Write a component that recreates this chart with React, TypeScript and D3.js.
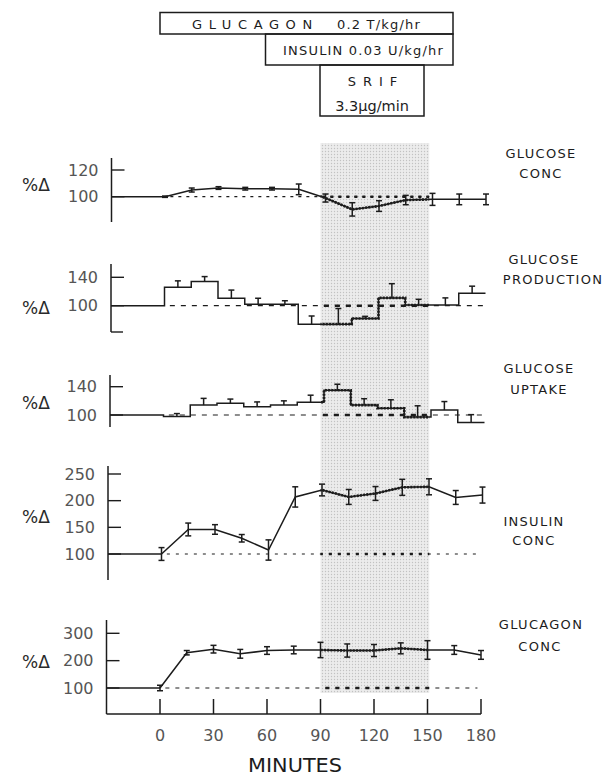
import * as d3 from "d3";

// sampling times (min) and step-interval starts
const minutes = [0, 15, 30, 45, 60, 75, 90, 105, 120, 135, 150, 165, 180];
const stepStarts = [0, 15, 30, 45, 60, 75, 90, 105, 120, 135, 150, 165];

// % of basal
const glucoseConc = [100, 105, 106.5, 106, 106, 105.5, 99, 90.5, 93, 97.5, 98, 98, 98];
const glucoseConcErr = [0.5, 1.5, 1, 1, 1, 4, 3, 5, 4, 3.5, 4.5, 4, 4];

const glucoseProd = [126, 134, 110.5, 102, 102, 74, 74, 82, 111, 101, 101, 117.5];
const glucoseProdErr = [9, 7, 11.5, 8.5, 5, 11.5, 22, 3, 20, 8, 10, 10];

const glucoseUptake = [98, 114, 116.5, 111.5, 114, 118, 135, 114, 109.5, 97, 107, 89.5];
const glucoseUptakeErr = [4, 9.5, 6, 7, 6, 10, 8.5, 9, 12, 16, 12, 11];

const insulinConc = [100, 146, 146, 129.5, 107.5, 207, 220, 207, 213.5, 225, 226, 206, 210.5];
const insulinConcErr = [12, 12, 9, 7, 19, 19, 11, 14, 13, 15, 15, 13, 15];

const glucagonConc = [100, 229, 242, 225, 237, 239, 239, 237, 237, 245, 239, 239, 221];
const glucagonConcErr = [10, 8, 14, 16, 14, 14, 28, 24, 22, 20, 34, 16, 16];

const xTicks = [0, 30, 60, 90, 120, 150, 180];
const srifPeriod = [90, 151];

const ink = "#1c1c1c";
const grey = "#555";
const font = "DejaVu Sans, sans-serif";
const AXIS_X = 106.5;

type Panel = {
  kind: "line" | "step";
  values: number[];
  errs: number[];
  domain: [number, number];
  range: [number, number];
  ticks: number[];
  axisSpan: [number, number];
  dx: number;
  pctY: number;
  labels: string[];
  labelX: number[];
  labelY: number[];
  dash: string;
  dashEnd: number;
  foot?: boolean;
};

const panels: Panel[] = [
  { kind: "line", values: glucoseConc, errs: glucoseConcErr, domain: [100, 120], range: [196.7, 170],
    ticks: [100, 120], axisSpan: [158, 222], dx: 5, pctY: 185,
    labels: ["GLUCOSE", "CONC"], labelX: [541, 541], labelY: [158, 178], dash: "3 5", dashEnd: 150 },
  { kind: "step", values: glucoseProd, errs: glucoseProdErr, domain: [100, 140], range: [305.7, 277.3],
    ticks: [100, 140], axisSpan: [264, 332], dx: 4.5, pctY: 308, foot: true,
    labels: ["GLUCOSE", "PRODUCTION"], labelX: [544, 553], labelY: [264, 284], dash: "5 6", dashEnd: 180 },
  { kind: "step", values: glucoseUptake, errs: glucoseUptakeErr, domain: [100, 140], range: [415, 386.7],
    ticks: [100, 140], axisSpan: [375, 427], dx: 3.5, pctY: 403,
    labels: ["GLUCOSE", "UPTAKE"], labelX: [539, 539], labelY: [373, 394], dash: "5 6", dashEnd: 180 },
  { kind: "line", values: insulinConc, errs: insulinConcErr, domain: [100, 250], range: [554, 474],
    ticks: [100, 150, 200, 250], axisSpan: [466, 580], dx: 1.5, pctY: 517,
    labels: ["INSULIN", "CONC"], labelX: [534, 534], labelY: [526, 545], dash: "3 6", dashEnd: 178 },
  { kind: "line", values: glucagonConc, errs: glucagonConcErr, domain: [100, 300], range: [688, 633.3],
    ticks: [100, 200, 300], axisSpan: [620, 714], dx: 0, pctY: 662,
    labels: ["GLUCAGON", "CONC"], labelX: [541, 540], labelY: [629, 651], dash: "4 6", dashEnd: 178 },
];

const x = d3.scaleLinear().domain([0, 180]).range([160, 481]);
const X_AXIS_Y = 714;
const shadeTop = 143;
const shadeBottom = 693;

function PanelView({ p, i }: { p: Panel; i: number }) {
  const y = d3.scaleLinear().domain(p.domain).range(p.range);
  const px = (t: number) => x(t) + p.dx;
  const axisX = AXIS_X + p.dx;
  const tAxis = x.invert(AXIS_X);

  let dataPath = "";
  if (p.kind === "line") {
    const pts = minutes.map((t, k) => [px(t), y(p.values[k])] as [number, number]);
    dataPath = d3.line()(pts) || "";
  } else {
    const pts: [number, number][] = [[px(tAxis), y(100)]];
    stepStarts.forEach((t, k) => pts.push([px(t), y(p.values[k])]));
    pts.push([px(180), y(p.values[p.values.length - 1])]);
    dataPath = d3.line().curve(d3.curveStepAfter)(pts) || "";
  }

  const bars =
    p.kind === "line"
      ? minutes.map((t, k) => ({ xc: px(t), y1: y(p.values[k] + p.errs[k]), y2: y(p.values[k] - p.errs[k]), both: true }))
      : stepStarts.map((t, k) => ({ xc: px(t + 7.5), y1: y(p.values[k] + p.errs[k]), y2: y(p.values[k]), both: false }));

  const cap = 3;
  return (
    <g>
      {/* y axis */}
      <line x1={axisX} x2={axisX} y1={p.axisSpan[0]} y2={p.axisSpan[1]} stroke={ink} strokeWidth={1.5} />
      {p.ticks.map((v) => (
        <g key={v}>
          <line x1={axisX} x2={axisX + 13} y1={y(v)} y2={y(v)} stroke={ink} strokeWidth={1.4} />
          <text x={axisX - 13} y={y(v) + 5.5} textAnchor="end" fontSize={16} fill={grey} fontFamily={font}>
            {v}
          </text>
        </g>
      ))}
      {p.foot && (
        <line x1={axisX} x2={axisX + 12} y1={p.axisSpan[1]} y2={p.axisSpan[1]} stroke={ink} strokeWidth={1.4} />
      )}
      <text x={22} y={p.pctY + 6} fontSize={17} fill="#2a2a2a" fontFamily={font}>
        %Δ
      </text>

      {/* basal reference */}
      {p.kind === "line" && (
        <line x1={axisX} x2={px(0)} y1={y(100)} y2={y(100)} stroke={ink} strokeWidth={1.4} />
      )}
      <line x1={px(3)} x2={px(p.dashEnd)} y1={y(100)} y2={y(100)} stroke={ink} strokeWidth={1.2} strokeDasharray={p.dash} />
      <g clipPath="url(#shadeClip)">
        <line x1={px(3)} x2={px(p.dashEnd)} y1={y(100)} y2={y(100)} stroke={ink} strokeWidth={2.4} strokeDasharray={p.dash} />
      </g>

      {/* data */}
      <path d={dataPath} fill="none" stroke={ink} strokeWidth={1.5} />
      <g clipPath="url(#shadeClip)">
        <path d={dataPath} fill="none" stroke={ink} strokeWidth={2.6} strokeDasharray="2 1.2" />
      </g>
      {bars.map((b, k) => (
        <g key={k} stroke={ink} strokeWidth={1.5}>
          <line x1={b.xc} x2={b.xc} y1={b.y1} y2={b.y2} />
          <line x1={b.xc - cap} x2={b.xc + cap} y1={b.y1} y2={b.y1} />
          {b.both && <line x1={b.xc - cap} x2={b.xc + cap} y1={b.y2} y2={b.y2} />}
        </g>
      ))}

      {/* right-hand labels */}
      {p.labels.map((s, k) => (
        <text key={s + k} x={p.labelX[k]} y={p.labelY[k]} textAnchor="middle" fontSize={13}
          letterSpacing={1.3} fill={ink} fontFamily={font}>
          {s}
        </text>
      ))}
      {i === panels.length - 1 && (
        <g>
          <line x1={AXIS_X} x2={x(180)} y1={X_AXIS_Y} y2={X_AXIS_Y} stroke={ink} strokeWidth={1.5} />
          {xTicks.map((t) => (
            <g key={t}>
              <line x1={x(t)} x2={x(t)} y1={X_AXIS_Y} y2={X_AXIS_Y - 15} stroke={ink} strokeWidth={1.5} />
              <text x={x(t)} y={741} textAnchor="middle" fontSize={16} fill={grey} fontFamily={font}>
                {t}
              </text>
            </g>
          ))}
          <text x={295} y={772} textAnchor="middle" fontSize={19} fill={ink} fontFamily={font}
            textLength={94} lengthAdjust="spacingAndGlyphs">
            MINUTES
          </text>
        </g>
      )}
    </g>
  );
}

export default function App() {
  const sx0 = x(srifPeriod[0]);
  const sx1 = x(srifPeriod[1]);
  return (
    <svg width={612} height={777} style={{ position: "absolute", left: 0, top: 0, background: "#fff" }}>
      <defs>
        <pattern id="stipple" width={3} height={3} patternUnits="userSpaceOnUse">
          <rect width={3} height={3} fill="#ececec" />
          <circle cx={1.5} cy={1.5} r={0.7} fill="#c2c2c2" />
        </pattern>
        <clipPath id="shadeClip">
          <rect x={sx0} y={shadeTop} width={sx1 - sx0} height={shadeBottom - shadeTop} />
        </clipPath>
      </defs>
      <rect x={sx0} y={shadeTop} width={sx1 - sx0} height={shadeBottom - shadeTop} fill="url(#stipple)" />

      {/* infusion boxes */}
      <g fill="none" stroke={ink} strokeWidth={1.5}>
        <rect x={160} y={12.5} width={293} height={21.5} />
        <rect x={265.5} y={34} width={187.5} height={31} />
        <rect x={320} y={65} width={104} height={51} />
      </g>
      <g fill={ink} fontFamily={font} fontSize={13}>
        <text x={192} y={29} letterSpacing={6.6}>GLUCAGON</text>
        <text x={337} y={29} letterSpacing={1.2}>0.2 T/kg/hr</text>
        <text x={283} y={55} letterSpacing={1.2}>INSULIN 0.03 U/kg/hr</text>
        <text x={376} y={86} textAnchor="middle" letterSpacing={7}>SRIF</text>
        <text x={372} y={111} textAnchor="middle" fontSize={14.5}>3.3μg/min</text>
      </g>

      {panels.map((p, i) => (
        <PanelView key={i} p={p} i={i} />
      ))}
    </svg>
  );
}
